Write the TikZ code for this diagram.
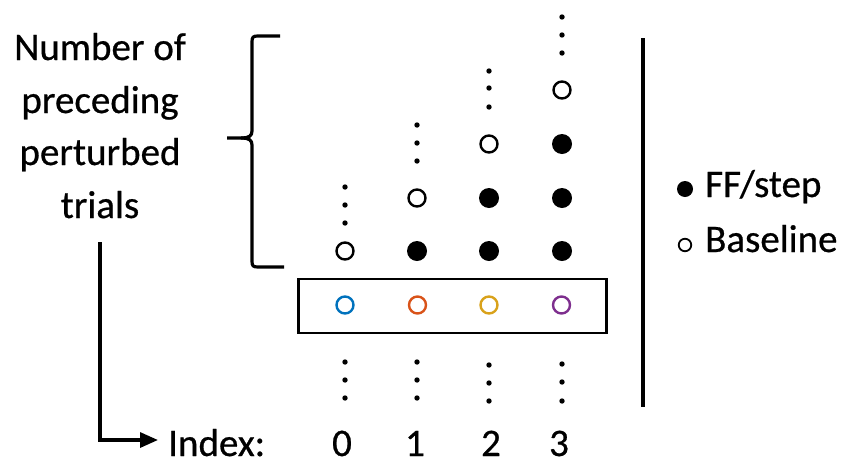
\documentclass[tikz,border=0pt]{standalone}
\usepackage{fontspec}
\setmainfont{Carlito}[UprightFeatures={FakeBold=0.6}]
\usetikzlibrary{arrows.meta}
\definecolor{cblue}{HTML}{0072BD}
\definecolor{corange}{HTML}{D95319}
\definecolor{cgold}{HTML}{D9A21B}
\definecolor{cpurple}{HTML}{7E2F8E}
\tikzset{
  txt/.style={inner sep=0pt, anchor=base, font=\fontsize{39}{47}\selectfont},
  txtl/.style={txt, anchor=base west},
  opendot/.style={circle, draw=black, line width=2.4pt, minimum size=17pt, inner sep=0pt},
  cdot/.style={circle, line width=2.4pt, minimum size=17pt, inner sep=0pt},
  fulldot/.style={circle, fill=black, minimum size=20pt, inner sep=0pt},
  vdot/.style={circle, fill=black, minimum size=5.4pt, inner sep=0pt},
  thick line/.style={line width=3.2pt},
}
\begin{document}
\begin{tikzpicture}[x=1pt,y=-1pt]
\useasboundingbox (0,0) rectangle (848,464);
% left label
\node[txt] (l1) at (100,60) {Number of};
\node[txt] (l2) at (100,113) {preceding};
\node[txt] (l3) at (100,165) {perturbed};
\node[txt] (l4) at (100,218) {trials};
% brace
\draw[thick line, line join=round] (280,36) -- (258,36) .. controls (253,36) and (252,37) .. (252,42) -- (252,131) .. controls (252,136) and (249,138) .. (241,138) -- (227,138);
\draw[thick line, line join=round] (241,138) .. controls (249,138) and (252,140) .. (252,145) -- (252,261) .. controls (252,266) and (253,267) .. (258,267) -- (284,267);
% index arrow
\coordinate (astart) at (100,242);
\coordinate (aend) at (158,440);
\draw[thick line, -{Triangle[length=18pt,width=15pt]}] (astart) |- (aend);
\node[txtl] (idx) at (168,456) {Index:};
\node[txt] (n0) at (342,456) {0};
\node[txt] (n1) at (415,456) {1};
\node[txt] (n2) at (491,456) {2};
\node[txt] (n3) at (559,456) {3};
% column 0
\node[opendot] (c0r1) at (345,251) {};
\node[vdot] (c0a) at (345,187) {};
\node[vdot] (c0b) at (345,205) {};
\node[vdot] (c0c) at (345,223) {};
% column 1
\node[fulldot] (c1r1) at (417,251) {};
\node[opendot] (c1r2) at (417,198) {};
\node[vdot] (c1a) at (417,125) {};
\node[vdot] (c1b) at (417,143) {};
\node[vdot] (c1c) at (417,161) {};
% column 2
\node[fulldot] (c2r1) at (489,251) {};
\node[fulldot] (c2r2) at (489,198) {};
\node[opendot] (c2r3) at (489,144) {};
\node[vdot] (c2a) at (489,71) {};
\node[vdot] (c2b) at (489,88) {};
\node[vdot] (c2c) at (489,107) {};
% column 3
\node[fulldot] (c3r1) at (562,251) {};
\node[fulldot] (c3r2) at (562,198) {};
\node[fulldot] (c3r3) at (562,144) {};
\node[opendot] (c3r4) at (562,90) {};
\node[vdot] (c3a) at (562,17) {};
\node[vdot] (c3b) at (562,35) {};
\node[vdot] (c3c) at (562,53) {};
% boxed row
\node[draw, line width=2.8pt, minimum width=308pt, minimum height=54pt, inner sep=0pt] (box) at (452.5,306) {};
\node[cdot, draw=cblue] (k0) at (345,305) {};
\node[cdot, draw=corange] (k1) at (417.5,305) {};
\node[cdot, draw=cgold] (k2) at (489,305) {};
\node[cdot, draw=cpurple] (k3) at (561.5,305) {};
% lower dots
\node[vdot] (d0a) at (345,362) {};
\node[vdot] (d0b) at (345,380) {};
\node[vdot] (d0c) at (345,398) {};
\node[vdot] (d1a) at (417,362) {};
\node[vdot] (d1b) at (417,380) {};
\node[vdot] (d1c) at (417,398) {};
\node[vdot] (d2a) at (489,365) {};
\node[vdot] (d2b) at (489,383) {};
\node[vdot] (d2c) at (489,401) {};
\node[vdot] (d3a) at (562,364) {};
\node[vdot] (d3b) at (562,382) {};
\node[vdot] (d3c) at (562,401) {};
% separator
\coordinate (sepT) at (643,38);
\coordinate (sepB) at (643,407);
\draw[thick line] (sepT) -- (sepB);
% legend
\node[circle, fill=black, minimum size=16pt, inner sep=0pt] (lgf) at (685,189) {};
\node[circle, draw=black, line width=1.8pt, minimum size=12.5pt, inner sep=0pt] (lgo) at (685,245) {};
\node[txtl] (lgft) at (705,197) {FF/step};
\node[txtl] (lgot) at (705,252) {Baseline};
\end{tikzpicture}
\end{document}
